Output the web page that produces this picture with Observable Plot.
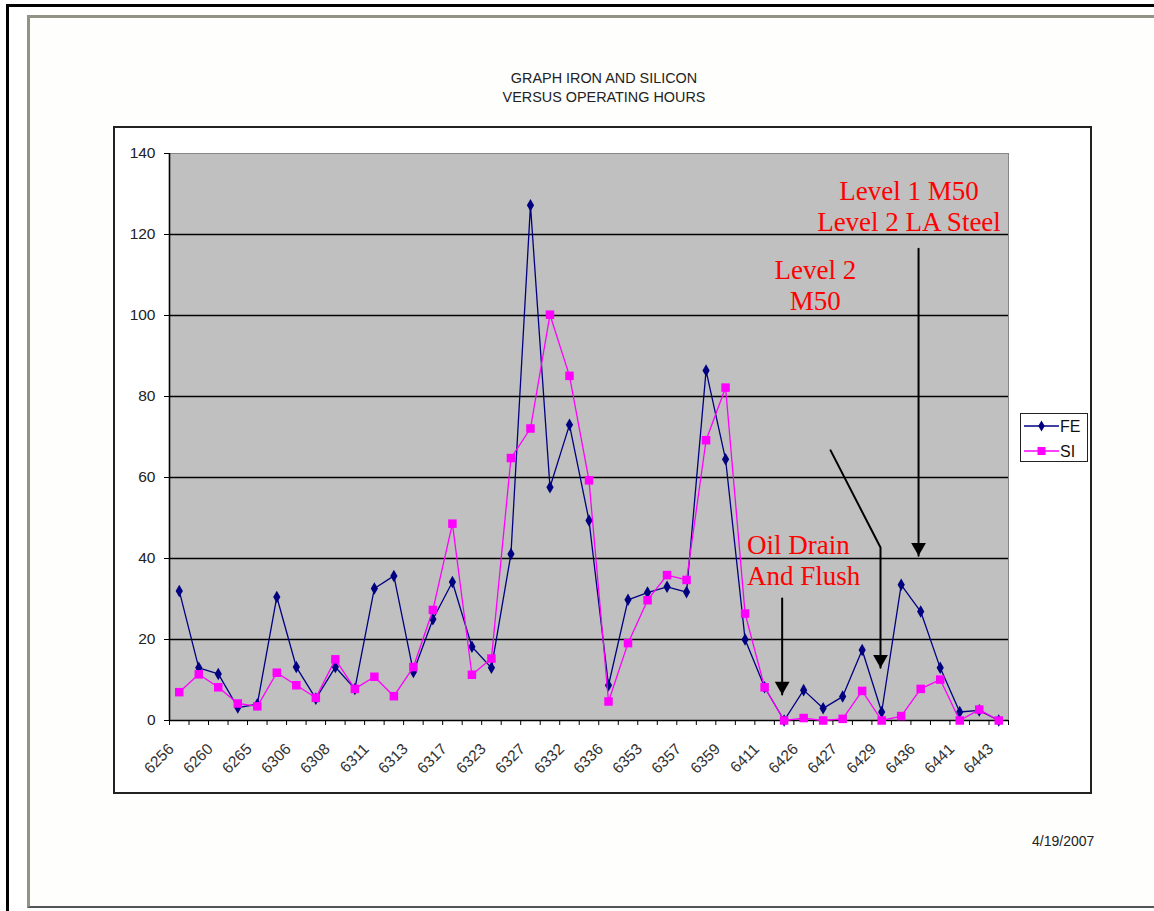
<!DOCTYPE html>
<html>
<head>
<meta charset="utf-8">
<script src="https://cdn.jsdelivr.net/npm/d3@7"></script>
<script src="https://cdn.jsdelivr.net/npm/@observablehq/plot@0.6"></script>
<style>
  html, body { margin: 0; padding: 0; background: #fff; overflow: hidden; }
  #page { position: relative; width: 1154px; height: 911px; font-family: "Liberation Sans", Arial, sans-serif; }
  .abs { position: absolute; }
  #outer { left: 6px; top: 4px; width: 1200px; height: 1000px; border-left: 3px solid #000; border-top: 3px solid #000; }
  #sheet { left: 27px; top: 15px; width: 1200px; height: 888px; border-left: 3px solid #8f9484; border-top: 3px solid #8f9484; border-bottom: 2px solid #555; background: #fefefc; }
  #box { left: 113px; top: 126px; width: 975px; height: 664px; border: 2px solid #222; background: #fff; }
  #title { left: 354px; top: 69px; width: 500px; text-align: center; font-size: 14.4px; line-height: 19px; color: #222; }
  #date { left: 1032px; top: 832px; font-size: 14px; line-height: 18px; color: #222; }
  #legend { left: 1020px; top: 413px; width: 66px; height: 47px; border: 1.5px solid #222; background: #fff; color: #111; }
  #plot { left: 0; top: 0; }
</style>
</head>
<body>
<div id="page">
  <div id="outer" class="abs"></div>
  <div id="sheet" class="abs"></div>
  <div id="box" class="abs"></div>
  <div id="title" class="abs">GRAPH IRON AND SILICON<br>VERSUS OPERATING HOURS</div>
  <div id="date" class="abs">4/19/2007</div>
  <div id="plot" class="abs"></div>
  <div id="legend" class="abs"></div>
</div>
<script>
// Operating hours shown on the axis (every second sample is labelled)
const tickLabels = ["6256","6260","6265","6306","6308","6311","6313","6317","6323","6327","6332",
  "6336","6353","6357","6359","6411","6426","6427","6429","6436","6441","6443"];

// Iron (FE) readings, one per sample (43 samples)
const feValues = [32,13,11.5,3.2,4,30.5,13.2,5.4,13.2,7.8,32.6,35.7,12,25,34.2,18.2,13,41.1,127.2,57.6,
  73,49.4,8.7,29.8,31.6,33,31.7,86.4,64.5,20,8.2,0,7.5,3,5.9,17.4,2.1,33.5,26.9,13,2.1,2.5,0];

// Silicon (SI) readings
const siValues = [7,11.4,8.2,4.2,3.5,11.8,8.7,5.6,15.1,7.8,10.8,6,13.2,27.3,48.6,11.3,15.3,64.8,72.1,100.2,
  85.1,59.3,4.7,19.1,29.7,35.9,34.7,69.2,82.2,26.4,8.2,0,0.6,0,0.4,7.3,0,1.1,7.8,10.1,0,2.7,0];

const yTicks = [0,20,40,60,80,100,120,140];
const gridValues = [20,40,60,80,100,120];

const seriesNames = ["FE","SI"];
const seriesColors = ["#000080","#ff00ff"];

// Annotations (x in sample index, y in value units)
const centeredNotes = [
  {x: 37.4, y: 127.25, text: "Level 1 M50\nLevel 2 LA Steel"},
  {x: 32.6, y: 107.6, text: "Level 2\nM50"}
];
const leftNotes = [
  {x: 29.1, y: 39.75, text: "Oil Drain\nAnd Flush"}
];
const arrowPaths = [
  {id: 1, x: 30.9, y: 30.1}, {id: 1, x: 30.9, y: 6.4},
  {id: 2, x: 33.38, y: 66.7}, {id: 2, x: 35.94, y: 42.7}, {id: 2, x: 35.94, y: 13.0},
  {id: 3, x: 37.89, y: 116.5}, {id: 3, x: 37.89, y: 40.7}
];
const arrowTips = [{x: 30.9, y: 6.4}, {x: 35.94, y: 13.0}, {x: 37.89, y: 40.7}];

const fe = feValues.map((v, i) => ({i, v}));
const si = siValues.map((v, i) => ({i, v}));
const n = feValues.length;
const boundaries = d3.range(n + 1).map(k => k - 0.5);
const labelIdx = tickLabels.map((_, k) => k * 2);

const font = "Liberation Sans, Arial, sans-serif";
const serif = "Liberation Serif, Times New Roman, serif";

const chart = Plot.plot({
  width: 1154,
  height: 911,
  marginLeft: 169,
  marginRight: 146,
  marginTop: 153,
  marginBottom: 191,
  style: {background: "transparent", fontFamily: font},
  x: {type: "linear", domain: [-0.5, n - 0.5], axis: null},
  y: {domain: [0, 140], axis: null},
  marks: [
    Plot.frame({fill: "#c0c0c0", stroke: "#868686"}),
    Plot.ruleY(gridValues, {stroke: "#000", strokeWidth: 1.4}),
    Plot.ruleX([-0.5], {stroke: "#000", strokeWidth: 1.6}),
    Plot.ruleY([0], {stroke: "#000", strokeWidth: 1.6}),
    Plot.axisY(yTicks, {tickSize: 5, tickPadding: 9, fontSize: 15.5, fill: "#222", stroke: "#000", fontFamily: font}),
    Plot.axisX(boundaries, {tickSize: 5, tickFormat: () => "", stroke: "#000"}),
    Plot.axisX(labelIdx, {tickSize: 0, tickPadding: 26, tickRotate: -45, dx: -8, fontSize: 15.5, fill: "#333",
      fontFamily: font, tickFormat: i => tickLabels[i / 2]}),
    Plot.line(fe, {x: "i", y: "v", stroke: seriesColors[0], strokeWidth: 1.3}),
    Plot.dot(fe, {x: "i", y: "v", symbol: "diamond", r: 3.8, fill: seriesColors[0], stroke: "none"}),
    Plot.line(si, {x: "i", y: "v", stroke: seriesColors[1], strokeWidth: 1.3}),
    Plot.dot(si, {x: "i", y: "v", symbol: "square", r: 4.8, fill: seriesColors[1], stroke: "none"}),
    Plot.line(arrowPaths, {x: "x", y: "y", z: "id", stroke: "#000", strokeWidth: 2}),
    Plot.dot(arrowTips, {x: "x", y: "y", symbol: "triangle", r: 5.5, rotate: 180, dy: -8.5, fill: "#000", stroke: "none"}),
    Plot.text(centeredNotes, {x: "x", y: "y", text: "text", textAnchor: "middle", lineAnchor: "middle", lineHeight: 1.15,
      fontSize: 27, fill: "#ff0000", fontFamily: serif}),
    Plot.text(leftNotes, {x: "x", y: "y", text: "text", textAnchor: "start", lineAnchor: "middle", lineHeight: 1.15,
      fontSize: 27, fill: "#ff0000", fontFamily: serif})
  ]
});
document.getElementById("plot").appendChild(chart);

// Legend
const leg = d3.select("#legend").append("svg").attr("width", 66).attr("height", 47);
seriesNames.forEach((name, k) => {
  const y = 12 + k * 25;
  leg.append("line").attr("x1", 3).attr("x2", 38).attr("y1", y).attr("y2", y)
    .attr("stroke", seriesColors[k]).attr("stroke-width", 1.3);
  leg.append("path").attr("transform", `translate(20.5,${y})`)
    .attr("d", d3.symbol(k === 0 ? d3.symbolDiamond : d3.symbolSquare, k === 0 ? 36 : 64)())
    .attr("fill", seriesColors[k]);
  leg.append("text").attr("x", 39).attr("y", y + 6).text(name)
    .attr("font-family", font).attr("font-size", 16).attr("fill", "#111");
});
</script>
</body>
</html>
